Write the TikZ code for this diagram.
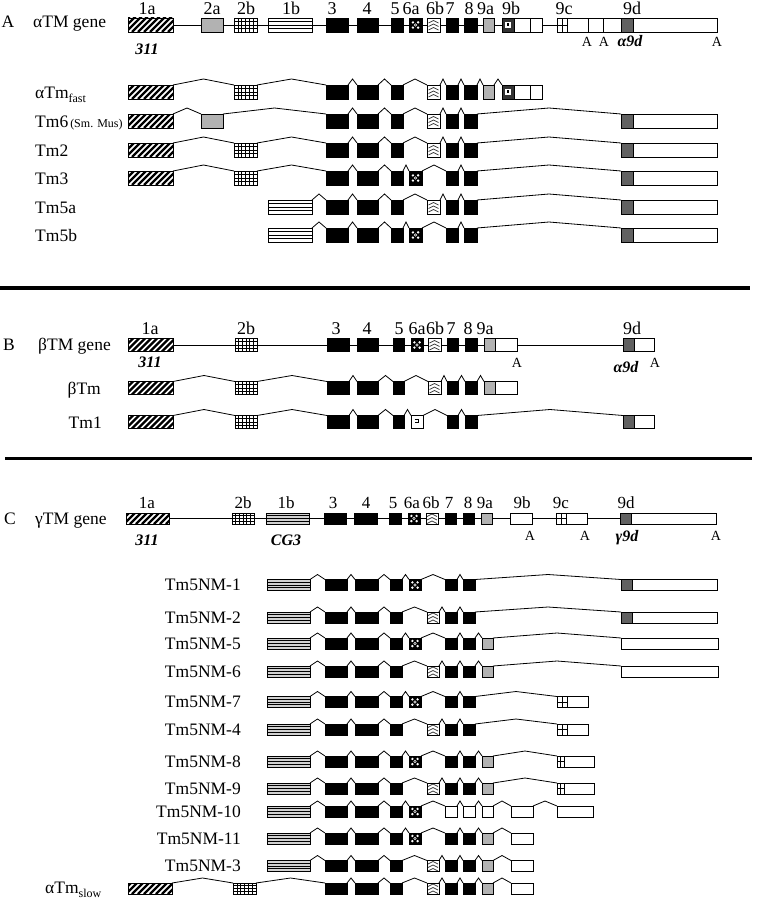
\documentclass[tikz,border=0pt]{standalone}
\usepackage{fontspec}
\setmainfont{Liberation Serif}
\usetikzlibrary{calc}
\tikzset{
  kind/.code={\edef\kindtmp{#1}\expandafter\pgfkeysalso\expandafter{\kindtmp}},
  exon/.style={draw=black, line width=0.8pt, inner sep=0pt, outer sep=0pt, fill=white},
  intron/.style={line width=0.8pt},
  genel/.style={line width=0.8pt},
  sepline/.style={line width=3.5pt},
  wht/.style={fill=white},
  blk/.style={fill=black},
  p1a/.style={fill=white, path picture={\foreach \k in {-20,-14,...,50}{\draw[line width=2.2pt] ([xshift=\k pt]path picture bounding box.south west) -- ++(20pt,20pt);}}},
  p2a/.style={fill=black!30},
  p2b/.style={fill=white, path picture={%
    \foreach \k in {1,...,5}{\draw[line width=0.55pt] ($(path picture bounding box.south west)!\k/6!(path picture bounding box.south east)$) -- ($(path picture bounding box.north west)!\k/6!(path picture bounding box.north east)$);}
    \foreach \k in {1,2,3}{\draw[line width=0.55pt] ($(path picture bounding box.south west)!\k/4!(path picture bounding box.north west)$) -- ($(path picture bounding box.south east)!\k/4!(path picture bounding box.north east)$);}}},
  p1b/.style={fill=white, path picture={\foreach \k in {1,2,3}{\draw[line width=0.9pt] ($(path picture bounding box.south west)!\k/4!(path picture bounding box.north west)$) -- ($(path picture bounding box.south east)!\k/4!(path picture bounding box.north east)$);}}},
  p1bC/.style={p1b, fill=black!18},
  p6a/.style={fill=black, path picture={%
    \foreach \dx/\dy in {2.6/2.6,-2.6/2.6,2.6/-2.6,-2.6/-2.6}{\fill[white] ([shift={(\dx pt,\dy pt)}]path picture bounding box.center) circle (1.3pt);}
    \draw[white,line width=0.5pt] (path picture bounding box.center) circle (1.3pt);}},
  p6b/.style={fill=white, path picture={%
    \foreach \a/\b in {-5/-2.5,-1.5/1,2/4.5}{\draw[line width=0.7pt,black!75] ([shift={(-5pt,\a pt)}]path picture bounding box.center) -- ([shift={(0pt,\b pt)}]path picture bounding box.center) -- ([shift={(5pt,\a pt)}]path picture bounding box.center);}}},
  p6x/.style={fill=white, path picture={%
    \draw[line width=0.9pt] ([shift={(-2.5pt,2.5pt)}]path picture bounding box.center) -- ++(4pt,0pt) -- ++(0pt,-3pt) -- ++(-4pt,0pt);
    \fill ([shift={(-2pt,-3.5pt)}]path picture bounding box.center) rectangle ++(3pt,1.5pt);}},
  p9a/.style={fill=black!30},
  p9b/.style={fill=black!80, path picture={%
    \fill[white] ([shift={(-3pt,-3pt)}]path picture bounding box.center) rectangle ++(6pt,6pt);
    \fill[black] ([shift={(-1.2pt,-0.8pt)}]path picture bounding box.center) rectangle ++(2.4pt,2.6pt);}},
  p9c/.style={fill=white, path picture={%
    \draw[line width=0.8pt] (path picture bounding box.north) -- (path picture bounding box.south);
    \draw[line width=0.8pt] (path picture bounding box.west) -- (path picture bounding box.east);}},
  p9d/.style={fill=black!62},
  tlab/.style={font=\fontsize{17.5}{20}\selectfont, inner sep=0pt},
  hlab/.style={font=\fontsize{18}{20}\selectfont, inner sep=0pt, anchor=base},
  hlabC/.style={font=\fontsize{17}{20}\selectfont, inner sep=0pt, anchor=base},
  bi/.style={font=\fontsize{16}{18}\selectfont\bfseries\itshape, inner sep=0pt, anchor=base},
  pa/.style={font=\fontsize{14}{16}\selectfont, inner sep=0pt, anchor=base},
}
\newcommand\conns[2]{\draw[intron] (#1.north east) -- ($(#1.north east)!.5!(#2.north west)+(0,-\pk)$) -- (#2.north west);}
\newcommand\connl[2]{\draw[genel] (#1.east) -- (#2.west);}
\newcommand\connn[2]{}
\newcommand\exrow[4]{%
  \foreach \xa/\xb/\st/\cn [count=\i, remember=\i as \j (initially 0)] in {#4}{%
    \node[exon, kind=\st, minimum width={(\xb-\xa)*1pt}, minimum height=#3pt] (#1-\i) at ({(\xa+\xb)/2},#2) {};
    \ifnum\i>1 \csname conn\cn\endcsname{#1-\j}{#1-\i}\fi
  }}
\newcommand\sub[1]{\raisebox{-4pt}{\fontsize{12}{12}\selectfont #1}}
\begin{document}
\begin{tikzpicture}[x=1pt,y=-1pt]
\fill[white] (0,0) rectangle (756,899);
\useasboundingbox (0,0) rectangle (756,899);
%% ---------------- Section A ----------------
\def\pk{6}
\node[tlab,anchor=base] (secA) at (8,28) {A};
\node[tlab,anchor=base west] (gA) at (33,28) {αTM gene};
\node[hlab] (hA1) at (147,15) {1a};
\node[hlab] (hA2) at (212,15) {2a};
\node[hlab] (hA3) at (246,15) {2b};
\node[hlab] (hA4) at (291,15) {1b};
\node[hlab] (hA5) at (332,15) {3};
\node[hlab] (hA6) at (367,15) {4};
\node[hlab] (hA7) at (395,15) {5};
\node[hlab] (hA8) at (411,15) {6a};
\node[hlab] (hA9) at (435,15) {6b};
\node[hlab] (hA10) at (450,15) {7};
\node[hlab] (hA11) at (469,15) {8};
\node[hlab] (hA12) at (485.5,15) {9a};
\node[hlab] (hA13) at (511,15) {9b};
\node[hlab] (hA14) at (564,15) {9c};
\node[hlab] (hA15) at (632,15) {9d};
\node[bi] (iA1) at (147,55) {311};
\node[pa] (aA1) at (587,47) {A};
\node[pa] (aA2) at (604,47) {A};
\node[pa] (aA3) at (717,47) {A};
\node[bi] (iA2) at (630,47) {α9d};
\exrow{A0}{25}{14}{128/173/p1a/n,201/223/p2a/l,234/257/p2b/l,268/312/p1b/l,326/348/blk/l,357/378/blk/l,391/403/blk/l,409/422/p6a/l,427/440/p6b/l,446/458/blk/l,464/477/blk/l,483/494/p9a/l,502/514/p9b/l,514/530/wht/n,530/542/wht/n,557/567/p9c/l,567/588/wht/n,588/603/wht/n,603/621/wht/n,621/633/p9d/n,633/717/wht/n}
\node[tlab,anchor=base west] (lA1) at (35,98) {αTm\sub{fast}};
\node[tlab,anchor=base west] (lA2) at (35,127.5) {Tm6\hspace{2pt}{\fontsize{12}{12}\selectfont (Sm. Mus)}};
\node[tlab,anchor=base west] (lA3) at (35,156.5) {Tm2};
\node[tlab,anchor=base west] (lA4) at (35,184.5) {Tm3};
\node[tlab,anchor=base west] (lA5) at (35,213.5) {Tm5a};
\node[tlab,anchor=base west] (lA6) at (35,241.5) {Tm5b};
\exrow{A1}{92}{14}{128/173/p1a/n,234/257/p2b/s,326/348/blk/s,357/378/blk/s,391/403/blk/s,427/440/p6b/s,446/458/blk/s,464/477/blk/s,483/494/p9a/s,502/514/p9b/s,514/530/wht/n,530/542/wht/n}
\exrow{A2}{121}{14}{128/173/p1a/n,201/223/p2a/s,326/348/blk/s,357/378/blk/s,391/403/blk/s,427/440/p6b/s,446/458/blk/s,464/477/blk/s,621/633/p9d/s,633/717/wht/n}
\exrow{A3}{150}{14}{128/173/p1a/n,234/257/p2b/s,326/348/blk/s,357/378/blk/s,391/403/blk/s,427/440/p6b/s,446/458/blk/s,464/477/blk/s,621/633/p9d/s,633/717/wht/n}
\exrow{A4}{178}{14}{128/173/p1a/n,234/257/p2b/s,326/348/blk/s,357/378/blk/s,391/403/blk/s,409/422/p6a/s,446/458/blk/s,464/477/blk/s,621/633/p9d/s,633/717/wht/n}
\exrow{A5}{207}{14}{268/312/p1b/n,326/348/blk/s,357/378/blk/s,391/403/blk/s,427/440/p6b/s,446/458/blk/s,464/477/blk/s,621/633/p9d/s,633/717/wht/n}
\exrow{A6}{235}{14}{268/312/p1b/n,326/348/blk/s,357/378/blk/s,391/403/blk/s,409/422/p6a/s,446/458/blk/s,464/477/blk/s,621/633/p9d/s,633/717/wht/n}
\coordinate (s1a) at (0,288);
\coordinate (s1b) at (750,288);
\draw[sepline] (s1a) -- (s1b);
%% ---------------- Section B ----------------
\node[tlab,anchor=base] (secB) at (9,350) {B};
\node[tlab,anchor=base west] (gB) at (38,350) {βTM gene};
\node[hlab] (hB1) at (150,334) {1a};
\node[hlab] (hB2) at (246,334) {2b};
\node[hlab] (hB3) at (336,334) {3};
\node[hlab] (hB4) at (367,334) {4};
\node[hlab] (hB5) at (399,334) {5};
\node[hlab] (hB6) at (417,334) {6a};
\node[hlab] (hB7) at (435,334) {6b};
\node[hlab] (hB8) at (451,334) {7};
\node[hlab] (hB9) at (468,334) {8};
\node[hlab] (hB10) at (485,334) {9a};
\node[hlab] (hB11) at (632,334) {9d};
\node[bi] (iB1) at (150,367) {311};
\node[pa] (aB1) at (517,367) {A};
\node[pa] (aB2) at (655,367) {A};
\node[bi] (iB2) at (626,372) {α9d};
\exrow{B0}{345}{13}{128/173/p1a/n,235/257/p2b/l,327/349/blk/l,357/378/blk/l,393/404/blk/l,411/423/p6a/l,428/441/p6b/l,447/458/blk/l,465/477/blk/l,484/495/p9a/l,495/517/wht/n,623/634/p9d/l,634/654/wht/n}
\node[tlab,anchor=base east] (lB1) at (101,394) {βTm};
\node[tlab,anchor=base east] (lB2) at (102,428) {Tm1};
\exrow{B1}{388}{13}{128/173/p1a/n,235/257/p2b/s,327/349/blk/s,357/378/blk/s,393/404/blk/s,428/441/p6b/s,447/458/blk/s,465/477/blk/s,484/495/p9a/s,495/517/wht/n}
\exrow{B2}{422}{13}{128/173/p1a/n,235/257/p2b/s,327/349/blk/s,357/378/blk/s,393/404/blk/s,411/423/p6x/s,447/458/blk/s,465/477/blk/s,623/634/p9d/s,634/654/wht/n}
\coordinate (s2a) at (5,458.5);
\coordinate (s2b) at (752,458.5);
\draw[sepline] (s2a) -- (s2b);
%% ---------------- Section C ----------------
\def\pk{5}
\node[tlab,anchor=base] (secC) at (10,524) {C};
\node[tlab,anchor=base west] (gC) at (35,524) {γTM gene};
\node[hlabC] (hC1) at (147,508) {1a};
\node[hlabC] (hC2) at (243,508) {2b};
\node[hlabC] (hC3) at (286,508) {1b};
\node[hlabC] (hC4) at (333,508) {3};
\node[hlabC] (hC5) at (366,508) {4};
\node[hlabC] (hC6) at (393,508) {5};
\node[hlabC] (hC7) at (412,508) {6a};
\node[hlabC] (hC8) at (431,508) {6b};
\node[hlabC] (hC9) at (449,508) {7};
\node[hlabC] (hC10) at (468,508) {8};
\node[hlabC] (hC11) at (485,508) {9a};
\node[hlabC] (hC12) at (522,508) {9b};
\node[hlabC] (hC13) at (561,508) {9c};
\node[hlabC] (hC14) at (626,508) {9d};
\node[bi] (iC1) at (147,545) {311};
\node[bi] (iC2) at (286,545) {CG3};
\node[pa] (aC1) at (530,540) {A};
\node[pa] (aC2) at (585,540) {A};
\node[pa] (aC3) at (716,540) {A};
\node[bi] (iC3) at (627,541) {γ9d};
\exrow{C0}{518.5}{11}{126/169/p1a/n,232/254/p2b/l,266/309/p1bC/l,324/346/blk/l,354/377/blk/l,389/401/blk/l,408/420/p6a/l,426/438/p6b/l,445/456/blk/l,463/474/blk/l,481/492/p9a/l,510/532/wht/l,556/566/p9c/l,566/587/wht/n,620/631/p9d/l,631/716/wht/n}
\node[tlab,anchor=base east] (lC1) at (241,590.5) {Tm5NM-1};
\node[tlab,anchor=base east] (lC2) at (241,623) {Tm5NM-2};
\node[tlab,anchor=base east] (lC3) at (241,649) {Tm5NM-5};
\node[tlab,anchor=base east] (lC4) at (241,677) {Tm5NM-6};
\node[tlab,anchor=base east] (lC5) at (241,707.5) {Tm5NM-7};
\node[tlab,anchor=base east] (lC6) at (241,735) {Tm5NM-4};
\node[tlab,anchor=base east] (lC7) at (241,767) {Tm5NM-8};
\node[tlab,anchor=base east] (lC8) at (241,794) {Tm5NM-9};
\node[tlab,anchor=base east] (lC9) at (241,817) {Tm5NM-10};
\node[tlab,anchor=base east] (lC10) at (241,844) {Tm5NM-11};
\node[tlab,anchor=base east] (lC11) at (241,871.5) {Tm5NM-3};
\node[tlab,anchor=base west] (lC12) at (45,893.5) {αTm\sub{slow}};
\exrow{C1}{585}{11}{267/310/p1bC/n,325/347/blk/s,355/378/blk/s,390/402/blk/s,409/421/p6a/s,445/457/blk/s,463/475/blk/s,621/632/p9d/s,632/717/wht/n}
\exrow{C2}{617.5}{11}{267/310/p1bC/n,325/347/blk/s,355/378/blk/s,390/402/blk/s,427/439/p6b/s,445/457/blk/s,463/475/blk/s,621/632/p9d/s,632/717/wht/n}
\exrow{C3}{643.5}{11}{267/310/p1bC/n,325/347/blk/s,355/378/blk/s,390/402/blk/s,409/421/p6a/s,445/457/blk/s,463/475/blk/s,482/493/p9a/s,621/718/wht/s}
\exrow{C4}{671.5}{11}{267/310/p1bC/n,325/347/blk/s,355/378/blk/s,390/402/blk/s,427/439/p6b/s,445/457/blk/s,463/475/blk/s,482/493/p9a/s,621/718/wht/s}
\exrow{C5}{702}{11}{267/310/p1bC/n,325/347/blk/s,355/378/blk/s,390/402/blk/s,409/421/p6a/s,445/457/blk/s,463/475/blk/s,557/567/p9c/s,567/588/wht/n}
\exrow{C6}{729.5}{11}{267/310/p1bC/n,325/347/blk/s,355/378/blk/s,390/402/blk/s,427/439/p6b/s,445/457/blk/s,463/475/blk/s,557/567/p9c/s,567/588/wht/n}
\exrow{C7}{761.5}{11}{267/310/p1bC/n,325/347/blk/s,355/378/blk/s,390/402/blk/s,409/421/p6a/s,445/457/blk/s,463/475/blk/s,482/493/p9a/s,557/564/p9c/s,564/594/wht/n}
\exrow{C8}{788.5}{11}{267/310/p1bC/n,325/347/blk/s,355/378/blk/s,390/402/blk/s,427/439/p6b/s,445/457/blk/s,463/475/blk/s,482/493/p9a/s,557/564/p9c/s,564/594/wht/n}
\exrow{C9}{811.5}{11}{267/310/p1bC/n,325/347/blk/s,355/378/blk/s,390/402/blk/s,409/421/p6a/s,445/457/wht/s,463/475/wht/s,482/493/wht/s,511/533/wht/s,557/593/wht/s}
\exrow{C10}{838.5}{11}{267/310/p1bC/n,325/347/blk/s,355/378/blk/s,390/402/blk/s,409/421/p6a/s,445/457/blk/s,463/475/blk/s,482/493/p9a/s,511/533/wht/s}
\exrow{C11}{866}{11}{267/310/p1bC/n,325/347/blk/s,355/378/blk/s,390/402/blk/s,427/439/p6b/s,445/457/blk/s,463/475/blk/s,482/493/p9a/s,511/533/wht/s}
\exrow{C12}{888.5}{11}{128/172/p1a/n,233/256/p2b/s,325/347/blk/s,355/378/blk/s,390/402/blk/s,427/439/p6b/s,445/457/blk/s,463/475/blk/s,482/493/p9a/s,511/533/wht/s}
\end{tikzpicture}
\end{document}
